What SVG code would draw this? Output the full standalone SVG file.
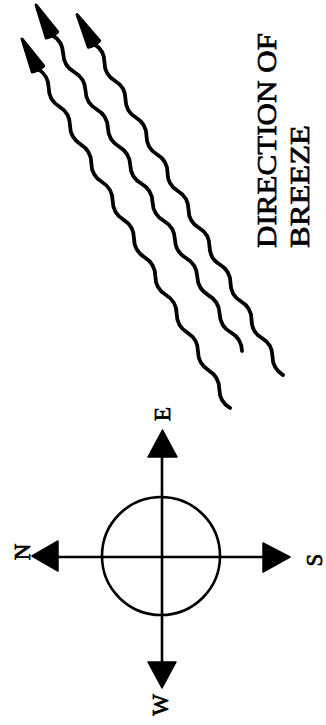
<svg xmlns="http://www.w3.org/2000/svg" width="326" height="725" viewBox="0 0 326 725">
<style>
.ax{stroke:#000;stroke-width:2.6;fill:none}
.ring{stroke:#000;stroke-width:2.6;fill:none}
.head{fill:#000;stroke:#000;stroke-width:1.5;stroke-linejoin:round}
.wave{stroke:#000;stroke-width:3.8;fill:none;stroke-linecap:round;stroke-linejoin:round}
.lbl{font-family:"Liberation Serif","DejaVu Serif",serif;font-weight:normal;font-size:23px;fill:#000;stroke:#000;stroke-width:0.7;text-anchor:middle}
.big{font-family:"Liberation Serif","DejaVu Serif",serif;font-weight:normal;font-size:28px;fill:#000;stroke:#000;stroke-width:0.7}
</style>
<defs>
<path id="wavehead" d="M-34 0 L0 -6.5 Q2 0 0 6.5 Z" fill="#000" stroke="#000" stroke-width="3" stroke-linejoin="round"/>
</defs>
<g id="compass">
<circle class="ring" cx="161" cy="556" r="59"/>
<line class="ax" x1="45" y1="557" x2="275" y2="557"/>
<line class="ax" x1="162" y1="445" x2="162" y2="675"/>
<polygon class="head" points="32,556 58,541 58,571"/>
<polygon class="head" points="290,557 263,543 263,572"/>
<polygon class="head" points="162.5,430 148,457 177,457"/>
<polygon class="head" points="162,688 148,662 176,662"/>
</g>
<g id="label-N"><text class="lbl" transform="translate(30,552) rotate(-90)">N</text></g>
<g id="label-E"><text class="lbl" transform="translate(170,414) rotate(-90)">E</text></g>
<g id="label-S"><text class="lbl" transform="translate(322,560) rotate(-90)">S</text></g>
<g id="label-W"><text class="lbl" transform="translate(168,705) rotate(-90)">W</text></g>
<g id="breeze-label">
<text class="big" transform="translate(276,248) rotate(-90)" textLength="215" lengthAdjust="spacingAndGlyphs">DIRECTION OF</text>
<text class="big" transform="translate(309,248) rotate(-90)" textLength="123" lengthAdjust="spacingAndGlyphs">BREEZE</text>
</g>
<g id="connectors">
<path class="wave" d="M38 69 q10.55 6.46 10.667 18.833 t10.667 18.833 t10.667 18.833 t10.667 18.833 t10.667 18.833 t10.667 18.833 t10.667 18.833 t10.667 18.833 t10.667 18.833 t10.667 18.833 t10.667 18.833 t10.667 18.833 t10.667 18.833 t10.667 18.833 t10.667 18.833 t10.667 18.833 t10.667 18.833 t10.667 18.833"/>
<path class="wave" d="M52 35 q10.73 6.20 11.176 18.588 t11.176 18.588 t11.176 18.588 t11.176 18.588 t11.176 18.588 t11.176 18.588 t11.176 18.588 t11.176 18.588 t11.176 18.588 t11.176 18.588 t11.176 18.588 t11.176 18.588 t11.176 18.588 t11.176 18.588 t11.176 18.588 t11.176 18.588 t11.176 18.588"/>
<path class="wave" d="M94 44 q10.46 6.22 10.5 18.389 t10.5 18.389 t10.5 18.389 t10.5 18.389 t10.5 18.389 t10.5 18.389 t10.5 18.389 t10.5 18.389 t10.5 18.389 t10.5 18.389 t10.5 18.389 t10.5 18.389 t10.5 18.389 t10.5 18.389 t10.5 18.389 t10.5 18.389 t10.5 18.389 t10.5 18.389"/>
<use href="#wavehead" transform="translate(38,69) rotate(62)"/>
<use href="#wavehead" transform="translate(52,35) rotate(62)"/>
<use href="#wavehead" transform="translate(94,44) rotate(60)"/>
</g>
</svg>
